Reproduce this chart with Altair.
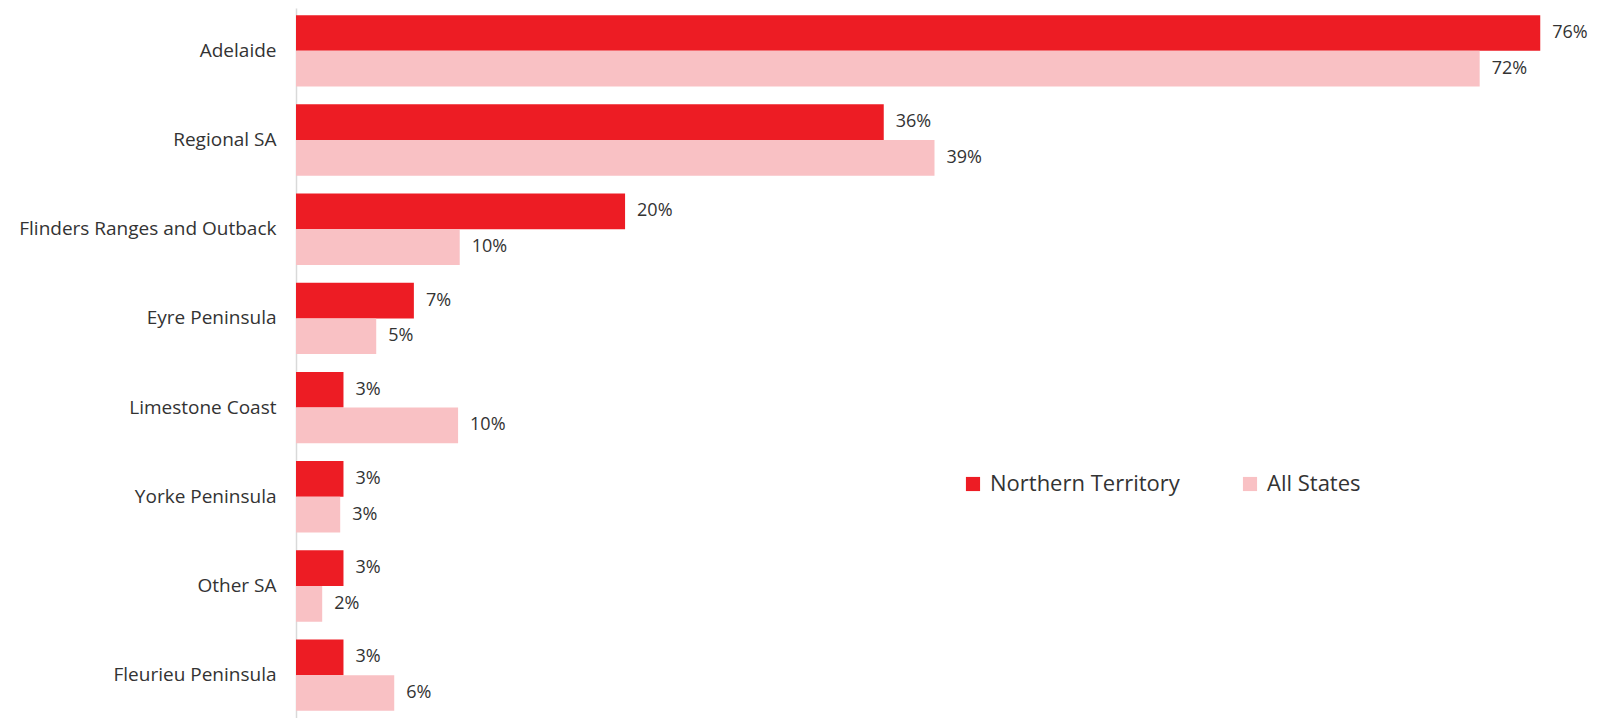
import altair as alt
import pandas as pd

regions = ["Adelaide", "Regional SA", "Flinders Ranges and Outback", "Eyre Peninsula",
           "Limestone Coast", "Yorke Peninsula", "Other SA", "Fleurieu Peninsula"]
nt_values = [76.0, 35.9, 20.1, 7.2, 2.9, 2.9, 2.9, 2.9]
all_values = [72.3, 39.0, 10.0, 4.9, 9.9, 2.7, 1.6, 6.0]
series = ["Northern Territory", "All States"]
colors = ["#ED1C24", "#F9C1C4"]

rows = []
for r, a, b in zip(regions, nt_values, all_values):
    rows.append({"region": r, "series": series[0], "value": a})
    rows.append({"region": r, "series": series[1], "value": b})
df = pd.DataFrame(rows)
df["label"] = df["value"].round(0).astype(int).astype(str) + "%"

FONT = "Open Sans"

y = alt.Y("region:N", sort=regions, title=None,
          scale=alt.Scale(paddingInner=0.2, paddingOuter=0.08),
          axis=alt.Axis(labelFont=FONT, labelFontSize=19, labelFontWeight=400,
                        labelColor="#333333",
                        labelPadding=20, ticks=False, domainColor="#d9d9d9",
                        domainWidth=1.5, labelLimit=400))
yoff = alt.YOffset("series:N", sort=series, scale=alt.Scale(paddingInner=0, paddingOuter=0))
x = alt.X("value:Q", axis=None, scale=alt.Scale(domain=[0, 78], nice=False))

bars = alt.Chart(df).mark_bar().encode(
    y=y, yOffset=yoff, x=x,
    color=alt.Color("series:N", sort=series,
                    scale=alt.Scale(domain=series, range=colors),
                    legend=alt.Legend(title=None, orient="none", legendX=666, legendY=465,
                                      direction="horizontal", symbolType="square",
                                      symbolSize=200, symbolStrokeWidth=0,
                                      labelFont=FONT, labelFontSize=22, labelFontWeight=400,
                                      labelColor="#333333", labelLimit=400,
                                      columnPadding=59, labelOffset=6)),
)

text = alt.Chart(df).mark_text(align="left", baseline="middle", dx=12,
                               font=FONT, fontSize=18, fontWeight=400, color="#333333").encode(
    y=y, yOffset=yoff, x=x, text="label:N")

chart = (bars + text).properties(width=1277, height=710, padding={"left": 10, "top": 0, "right": 0, "bottom": 0}).configure_view(stroke=None)

chart.save("out.html", embed_options={"renderer": "svg", "actions": False})
